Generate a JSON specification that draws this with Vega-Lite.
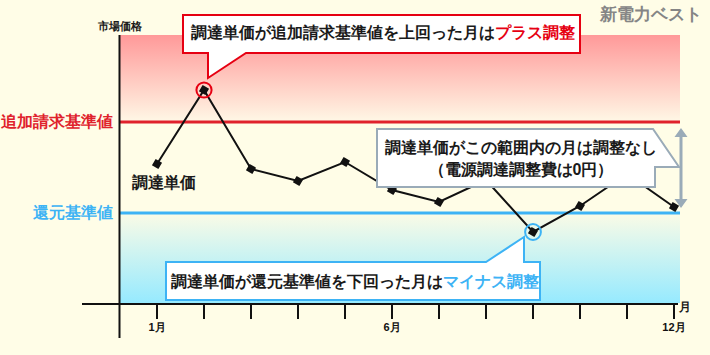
{
  "$schema": "https://vega.github.io/schema/vega-lite/v6.json",
  "width": 710,
  "height": 355,
  "autosize": "none",
  "padding": 0,
  "background": "#fffde7",
  "config": {"view": {"stroke": null}, "mark": {"font": "Noto Sans CJK JP"}},
  "datasets": {
    "series": [
      {"month": 1, "price": 140},
      {"month": 2, "price": 214},
      {"month": 3, "price": 135},
      {"month": 4, "price": 123},
      {"month": 5, "price": 142},
      {"month": 6, "price": 114},
      {"month": 7, "price": 102},
      {"month": 8, "price": 124},
      {"month": 9, "price": 72},
      {"month": 10, "price": 98},
      {"month": 11, "price": 130},
      {"month": 12, "price": 97}
    ],
    "labels": [
      {"month": 1, "label": "1月"},
      {"month": 6, "label": "6月"},
      {"month": 12, "label": "12月"}
    ],
    "one": [{}],
    "textLeft": [
      {"m": 1.7234, "v": 271, "t": "調達単価が追加請求基準値を上回った月は", "c": "#1a1a1a", "s": 16},
      {"m": 8.1915, "v": 271, "t": "プラス調整", "c": "#e60012", "s": 16},
      {"m": 1.2979, "v": 22, "t": "調達単価が還元基準値を下回った月は", "c": "#1a1a1a", "s": 16},
      {"m": 7.0851, "v": 22, "t": "マイナス調整", "c": "#3db3f5", "s": 16}
    ],
    "textCenter": [
      {"m": 8.7447, "v": 156, "t": "調達単価がこの範囲内の月は調整なし", "c": "#1a1a1a", "s": 16},
      {"m": 8.7447, "v": 134, "t": "（電源調達調整費は0円）", "c": "#1a1a1a", "s": 16},
      {"m": 1.1596, "v": 121, "t": "調達単価", "c": "#1a1a1a", "s": 16},
      {"m": 0.2128, "v": 277, "t": "市場価格", "c": "#1a1a1a", "s": 11},
      {"m": 11.5213, "v": 289, "t": "新電力ベスト", "c": "#858585", "s": 17},
      {"m": 12.234, "v": -3, "t": "月", "c": "#1a1a1a", "s": 12}
    ],
    "textRight": [
      {"m": 0.0638, "v": 182, "t": "追加請求基準値", "c": "#e0222c", "s": 15.5},
      {"m": 0.0638, "v": 91, "t": "還元基準値", "c": "#3db3f5", "s": 15.5}
    ]
  },
  "data": {"name": "series"},
  "layer": [
    {
      "data": {"name": "one"},
      "mark": {"type": "rect", "fill": {"gradient": "linear", "x1": 0, "y1": 0, "x2": 0, "y2": 1, "stops": [{"offset": 0, "color": "#ff9999"}, {"offset": 1, "color": "#fff8e6"}]}},
      "encoding": {
        "x": {"datum": 0.2021, "type": "quantitative", "scale": {"domain": [-2.3404, 12.766], "nice": false, "zero": false}, "axis": null},
        "x2": {"datum": 12.1277},
        "y": {"datum": 269, "type": "quantitative", "scale": {"domain": [-51, 304], "nice": false, "zero": false}, "axis": null},
        "y2": {"datum": 182}
      }
    },
    {
      "data": {"name": "one"},
      "mark": {"type": "rect", "fill": {"gradient": "linear", "x1": 0, "y1": 0, "x2": 0, "y2": 1, "stops": [{"offset": 0, "color": "#fbfbe6"}, {"offset": 1, "color": "#96eaff"}]}},
      "encoding": {
        "x": {"datum": 0.2021, "type": "quantitative", "scale": {"domain": [-2.3404, 12.766], "nice": false, "zero": false}, "axis": null},
        "x2": {"datum": 12.1277},
        "y": {"datum": 91, "type": "quantitative", "scale": {"domain": [-51, 304], "nice": false, "zero": false}, "axis": null},
        "y2": {"datum": 1}
      }
    },
    {
      "data": {"name": "one"},
      "mark": {"type": "rule", "color": "#e0222c", "strokeWidth": 3},
      "encoding": {
        "x": {"datum": 0.2021, "type": "quantitative", "scale": {"domain": [-2.3404, 12.766], "nice": false, "zero": false}, "axis": null},
        "x2": {"datum": 12.1277},
        "y": {"datum": 182, "type": "quantitative", "scale": {"domain": [-51, 304], "nice": false, "zero": false}, "axis": null}
      }
    },
    {
      "data": {"name": "one"},
      "mark": {"type": "rule", "color": "#3db3f5", "strokeWidth": 3},
      "encoding": {
        "x": {"datum": 0.2021, "type": "quantitative", "scale": {"domain": [-2.3404, 12.766], "nice": false, "zero": false}, "axis": null},
        "x2": {"datum": 12.1277},
        "y": {"datum": 91, "type": "quantitative", "scale": {"domain": [-51, 304], "nice": false, "zero": false}, "axis": null}
      }
    },
    {
      "data": {"name": "one"},
      "mark": {"type": "rule", "color": "#111111", "strokeWidth": 2},
      "encoding": {
        "x": {"datum": 0.2021, "type": "quantitative", "scale": {"domain": [-2.3404, 12.766], "nice": false, "zero": false}, "axis": null},
        "y": {"datum": 269, "type": "quantitative", "scale": {"domain": [-51, 304], "nice": false, "zero": false}, "axis": null},
        "y2": {"datum": -34}
      }
    },
    {
      "data": {"name": "one"},
      "mark": {"type": "rule", "color": "#111111", "strokeWidth": 2},
      "encoding": {
        "x": {"datum": -0.5957, "type": "quantitative", "scale": {"domain": [-2.3404, 12.766], "nice": false, "zero": false}, "axis": null},
        "x2": {"datum": 12.0851},
        "y": {"datum": 0, "type": "quantitative", "scale": {"domain": [-51, 304], "nice": false, "zero": false}, "axis": null}
      }
    },
    {
      "mark": {"type": "rule", "color": "#111111", "strokeWidth": 2},
      "encoding": {
        "x": {"field": "month", "type": "quantitative", "scale": {"domain": [-2.3404, 12.766], "nice": false, "zero": false}, "axis": null},
        "y": {"datum": 0, "type": "quantitative", "scale": {"domain": [-51, 304], "nice": false, "zero": false}, "axis": null},
        "y2": {"datum": -15}
      }
    },
    {
      "data": {"name": "labels"},
      "mark": {"type": "text", "fontSize": 11, "fontWeight": "bold", "color": "#111111", "align": "center", "baseline": "middle"},
      "encoding": {
        "x": {"field": "month", "type": "quantitative", "scale": {"domain": [-2.3404, 12.766], "nice": false, "zero": false}, "axis": null},
        "y": {"datum": -24, "type": "quantitative", "scale": {"domain": [-51, 304], "nice": false, "zero": false}, "axis": null},
        "text": {"field": "label"}
      }
    },
    {
      "mark": {"type": "line", "color": "#111111", "strokeWidth": 2},
      "encoding": {
        "x": {"field": "month", "type": "quantitative", "scale": {"domain": [-2.3404, 12.766], "nice": false, "zero": false}, "axis": null},
        "y": {"field": "price", "type": "quantitative", "scale": {"domain": [-51, 304], "nice": false, "zero": false}, "axis": null}
      }
    },
    {
      "mark": {"type": "point", "shape": "square", "angle": 30, "filled": true, "color": "#111111", "size": 55, "opacity": 1},
      "encoding": {
        "x": {"field": "month", "type": "quantitative", "scale": {"domain": [-2.3404, 12.766], "nice": false, "zero": false}, "axis": null},
        "y": {"field": "price", "type": "quantitative", "scale": {"domain": [-51, 304], "nice": false, "zero": false}, "axis": null}
      }
    },
    {
      "transform": [{"filter": "datum.month == 2"}],
      "mark": {"type": "point", "shape": "circle", "filled": false, "stroke": "#e60012", "strokeWidth": 2, "size": 230, "opacity": 1},
      "encoding": {
        "x": {"field": "month", "type": "quantitative", "scale": {"domain": [-2.3404, 12.766], "nice": false, "zero": false}, "axis": null},
        "y": {"field": "price", "type": "quantitative", "scale": {"domain": [-51, 304], "nice": false, "zero": false}, "axis": null}
      }
    },
    {
      "transform": [{"filter": "datum.month == 9"}],
      "mark": {"type": "point", "shape": "circle", "filled": false, "stroke": "#3db3f5", "strokeWidth": 2, "size": 250, "opacity": 1},
      "encoding": {
        "x": {"field": "month", "type": "quantitative", "scale": {"domain": [-2.3404, 12.766], "nice": false, "zero": false}, "axis": null},
        "y": {"field": "price", "type": "quantitative", "scale": {"domain": [-51, 304], "nice": false, "zero": false}, "axis": null}
      }
    },
    {
      "transform": [{"filter": "datum.month == 2"}],
      "mark": {"type": "point", "shape": "M-21,-75L376,-75L376,-37L42,-37L4,-12L4,-37L-21,-37Z", "size": 4, "filled": true, "fill": "#ffffff", "stroke": "#e60012", "strokeWidth": 2, "opacity": 1, "strokeJoin": "miter"},
      "encoding": {
        "x": {"field": "month", "type": "quantitative", "scale": {"domain": [-2.3404, 12.766], "nice": false, "zero": false}, "axis": null},
        "y": {"field": "price", "type": "quantitative", "scale": {"domain": [-51, 304], "nice": false, "zero": false}, "axis": null}
      }
    },
    {
      "transform": [{"filter": "datum.month == 9"}],
      "mark": {"type": "point", "shape": "M-367,30L-47,30L-9,5L-9,30L7,30L7,68L-367,68Z", "size": 4, "filled": true, "fill": "#ffffff", "stroke": "#3db3f5", "strokeWidth": 2, "opacity": 1, "strokeJoin": "miter"},
      "encoding": {
        "x": {"field": "month", "type": "quantitative", "scale": {"domain": [-2.3404, 12.766], "nice": false, "zero": false}, "axis": null},
        "y": {"field": "price", "type": "quantitative", "scale": {"domain": [-51, 304], "nice": false, "zero": false}, "axis": null}
      }
    },
    {
      "data": {"name": "one"},
      "mark": {"type": "point", "shape": "M0,0L276,0L302,38L278,38L278,58L0,58Z", "size": 4, "filled": true, "fill": "#ffffff", "stroke": "#9aabb8", "strokeWidth": 2, "opacity": 1, "strokeJoin": "miter"},
      "encoding": {
        "x": {"datum": 5.6809, "type": "quantitative", "scale": {"domain": [-2.3404, 12.766], "nice": false, "zero": false}, "axis": null},
        "y": {"datum": 175, "type": "quantitative", "scale": {"domain": [-51, 304], "nice": false, "zero": false}, "axis": null}
      }
    },
    {
      "data": {"name": "one"},
      "mark": {"type": "point", "shape": "M-6.5,9L0,0L6.5,9L1.5,9L1.5,71L6.5,71L0,80L-6.5,71L-1.5,71L-1.5,9Z", "size": 4, "filled": true, "fill": "#9aabb8", "strokeWidth": 0, "opacity": 1},
      "encoding": {
        "x": {"datum": 12.1489, "type": "quantitative", "scale": {"domain": [-2.3404, 12.766], "nice": false, "zero": false}, "axis": null},
        "y": {"datum": 176, "type": "quantitative", "scale": {"domain": [-51, 304], "nice": false, "zero": false}, "axis": null}
      }
    },
    {
      "data": {"name": "textLeft"},
      "mark": {"type": "text", "fontWeight": "bold", "baseline": "middle", "align": "left"},
      "encoding": {
        "x": {"field": "m", "type": "quantitative", "scale": {"domain": [-2.3404, 12.766], "nice": false, "zero": false}, "axis": null},
        "y": {"field": "v", "type": "quantitative", "scale": {"domain": [-51, 304], "nice": false, "zero": false}, "axis": null},
        "text": {"field": "t"},
        "color": {"field": "c", "type": "nominal", "scale": null},
        "size": {"field": "s", "type": "quantitative", "scale": null}
      }
    },
    {
      "data": {"name": "textCenter"},
      "mark": {"type": "text", "fontWeight": "bold", "baseline": "middle", "align": "center"},
      "encoding": {
        "x": {"field": "m", "type": "quantitative", "scale": {"domain": [-2.3404, 12.766], "nice": false, "zero": false}, "axis": null},
        "y": {"field": "v", "type": "quantitative", "scale": {"domain": [-51, 304], "nice": false, "zero": false}, "axis": null},
        "text": {"field": "t"},
        "color": {"field": "c", "type": "nominal", "scale": null},
        "size": {"field": "s", "type": "quantitative", "scale": null}
      }
    },
    {
      "data": {"name": "textRight"},
      "mark": {"type": "text", "fontWeight": "bold", "baseline": "middle", "align": "right"},
      "encoding": {
        "x": {"field": "m", "type": "quantitative", "scale": {"domain": [-2.3404, 12.766], "nice": false, "zero": false}, "axis": null},
        "y": {"field": "v", "type": "quantitative", "scale": {"domain": [-51, 304], "nice": false, "zero": false}, "axis": null},
        "text": {"field": "t"},
        "color": {"field": "c", "type": "nominal", "scale": null},
        "size": {"field": "s", "type": "quantitative", "scale": null}
      }
    }
  ]
}
